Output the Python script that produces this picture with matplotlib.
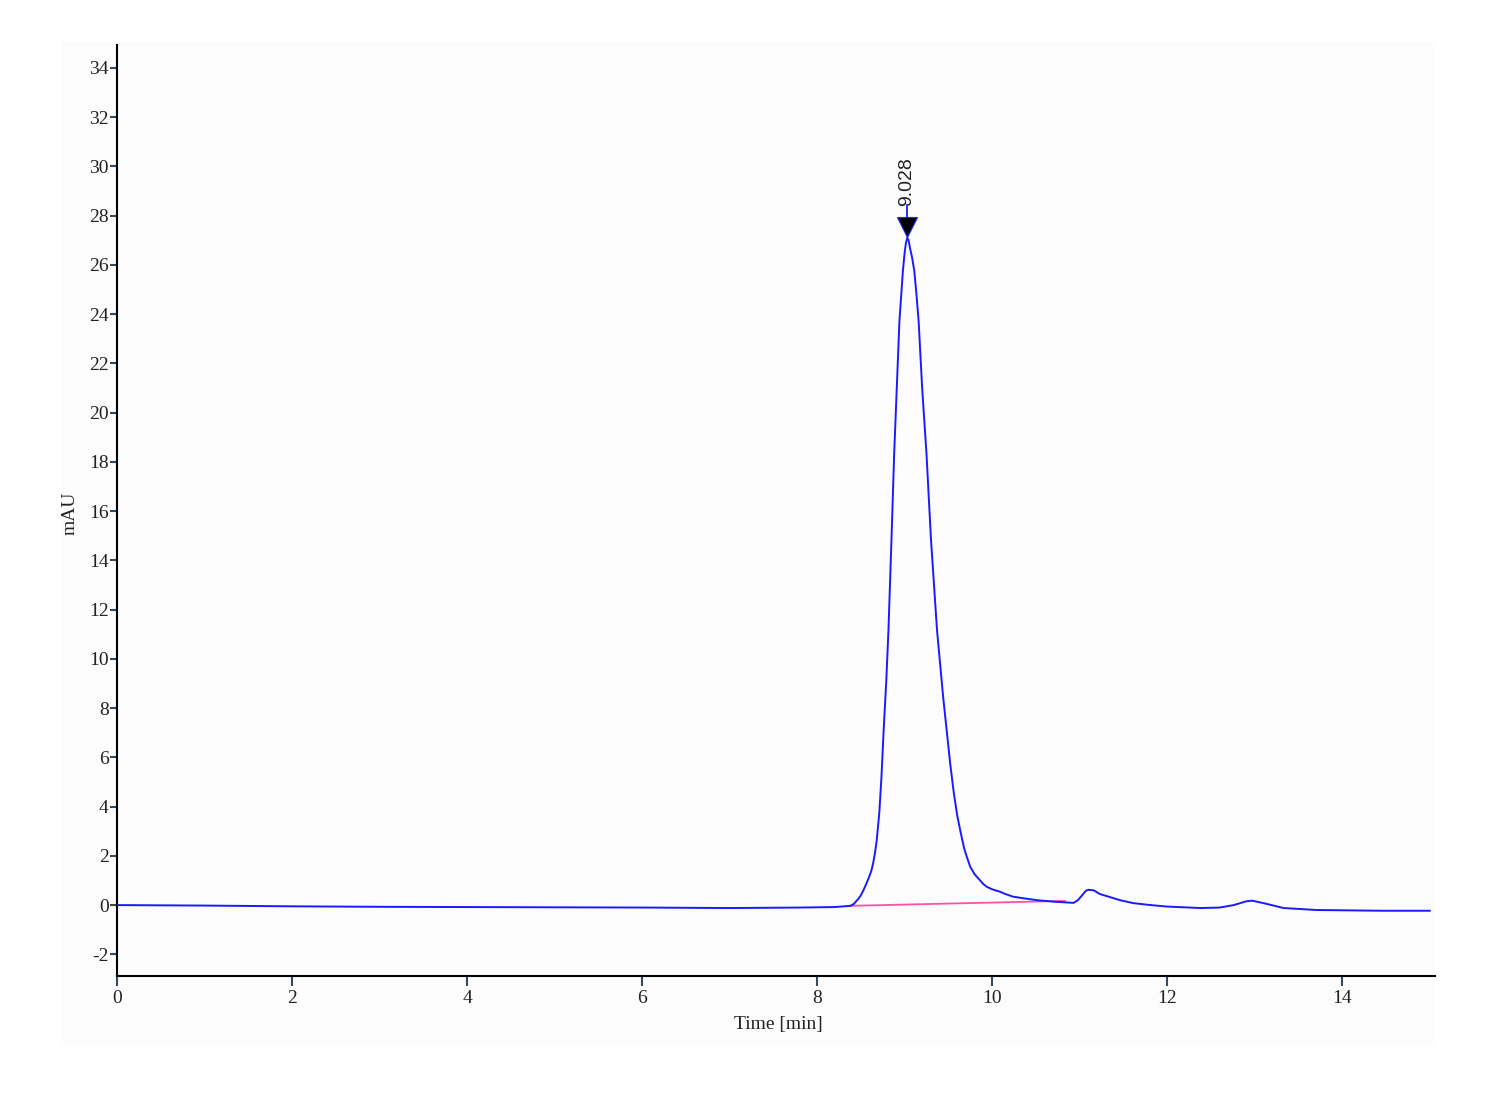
import matplotlib
matplotlib.use("Agg")
import matplotlib.pyplot as plt
from matplotlib.patches import Rectangle

plt.rcParams["axes.unicode_minus"] = False

# ---- data ----
time_min = [0.0, 1.0, 2.0, 3.0, 4.0, 5.0, 6.0, 7.0, 7.8, 8.2, 8.38, 8.42, 8.47,
            8.50, 8.53, 8.56, 8.60, 8.62, 8.64, 8.66, 8.68, 8.71, 8.735, 8.76,
            8.79, 8.815, 8.85, 8.88, 8.91, 8.94, 8.98, 9.0, 9.015, 9.03, 9.045,
            9.06, 9.085, 9.11, 9.135, 9.16, 9.20, 9.25, 9.30, 9.37, 9.44, 9.52,
            9.56, 9.60, 9.64, 9.68, 9.71, 9.75, 9.80, 9.86, 9.90, 9.94, 10.0,
            10.09, 10.15, 10.24, 10.35, 10.51, 10.7, 10.93, 10.98, 11.04, 11.07,
            11.10, 11.16, 11.23, 11.46, 11.61, 11.81, 12.0, 12.38, 12.6, 12.76,
            12.9, 12.97, 13.1, 13.33, 13.71, 14.47, 15.0]
signal_mau = [0.0, -0.02, -0.05, -0.07, -0.08, -0.09, -0.10, -0.12, -0.10, -0.08,
              -0.03, 0.05, 0.25, 0.40, 0.61, 0.85, 1.2, 1.4, 1.70, 2.1, 2.6, 3.73,
              5.2, 7.1, 9.1, 11.16, 14.9, 18.3, 21.0, 23.7, 25.76, 26.5, 26.9,
              27.1, 27.0, 26.7, 26.3, 25.76, 24.8, 23.7, 21.0, 18.3, 14.9, 11.16,
              8.45, 5.76, 4.6, 3.65, 2.95, 2.3, 1.96, 1.55, 1.25, 1.01, 0.85,
              0.74, 0.64, 0.54, 0.45, 0.34, 0.28, 0.20, 0.14, 0.09, 0.20, 0.45,
              0.58, 0.62, 0.60, 0.45, 0.20, 0.08, 0.0, -0.06, -0.12, -0.10, 0.0,
              0.15, 0.18, 0.08, -0.12, -0.20, -0.23, -0.23]

baseline_t = [8.38, 10.83]
baseline_y = [-0.03, 0.17]

peak_time = 9.028
peak_label = "9.028"
peak_height = 27.1

x_ticks = [0, 2, 4, 6, 8, 10, 12, 14]
y_ticks = [-2, 0, 2, 4, 6, 8, 10, 12, 14, 16, 18, 20, 22, 24, 26, 28, 30, 32, 34]
x_label = "Time [min]"
y_label = "mAU"

# ---- figure ----
W, H = 1500, 1100
fig = plt.figure(figsize=(15, 11), dpi=100, facecolor="white")
bg = Rectangle((62 / W, 1 - 1045 / H), (1435 - 62) / W, (1045 - 42) / H,
               transform=fig.transFigure, facecolor="#fcfcfc",
               edgecolor="none", zorder=-10)
fig.patches.append(bg)

ax = fig.add_axes([117 / W, 1 - 976 / H, (1435 - 117) / W, (976 - 45) / H])
ax.set_zorder(5)
ax.set_facecolor("none")

ax.plot(baseline_t, baseline_y, color="#ff3399", lw=1.3, alpha=0.85, zorder=2)
ax.plot(time_min, signal_mau, color="#1a1aff", lw=1.4, zorder=3)

# peak marker
ax.plot([peak_time, peak_time], [peak_height + 0.85, peak_height + 1.35],
        color="#1a1aff", lw=1.3, zorder=4)
ax.plot([peak_time], [peak_height + 0.45], marker="v", markersize=15,
        markerfacecolor="black", markeredgecolor="#2020ff", markeredgewidth=0.8,
        linestyle="none", zorder=5)
ax.text(peak_time, peak_height + 1.3, peak_label, rotation=90, ha="center",
        va="bottom", fontsize=14, family="Liberation Sans", color="#222222")

ax.set_xlim(0, 15.06)
ax.set_ylim(-2.88, 34.93)
ax.set_xticks(x_ticks)
ax.set_yticks(y_ticks)

serif = "Liberation Serif"
ax.tick_params(axis="y", direction="out", length=5, width=1.5, color="#34495e",
               pad=1, labelsize=14)
ax.tick_params(axis="x", direction="out", length=7, width=1.5, color="#34495e",
               pad=3, labelsize=14)
for lab in ax.get_xticklabels() + ax.get_yticklabels():
    lab.set_family(serif)
    lab.set_color("#222222")

for s in ["top", "right"]:
    ax.spines[s].set_visible(False)
for s in ["left", "bottom"]:
    ax.spines[s].set_color("black")
    ax.spines[s].set_linewidth(1.5)

fig.text(778 / W, 1 - 1025 / H, x_label, ha="center", va="center",
         fontsize=14, family=serif, color="#222222", zorder=6)
fig.text(70 / W, 1 - 513 / H, y_label, ha="center", va="center", rotation=90,
         fontsize=14, family=serif, color="#222222", zorder=6)

fig.savefig("out.png", dpi=100, facecolor="white")
